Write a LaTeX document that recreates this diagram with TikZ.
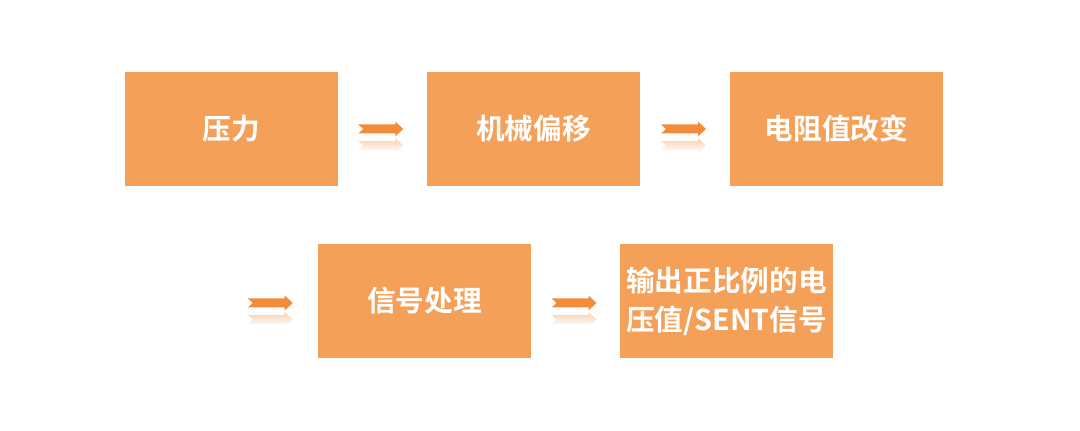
\documentclass[tikz,border=0pt]{standalone}
\usepackage{fontspec}
\newfontfamily\cjk{Noto Sans CJK SC}[BoldFont=Noto Sans CJK SC Bold]
\usepackage{xcolor}
\definecolor{boxorange}{RGB}{245,160,88}
\definecolor{arroworange}{RGB}{243,140,58}
\usetikzlibrary{calc, fadings}

\tikzset{
  flowarrow/.pic={
    % arrow body
    \fill[arroworange] (-22,-4.5) -- (15,-4.5) -- (15,-7.5) -- (23,0) -- (15,7.5) -- (15,4.5)
      -- (-22,4.5) -- (-17,0) -- cycle;
    % reflection
    \fill[arroworange!40, path fading=south] (-22,-12) -- (15,-12) -- (15,-9) -- (23,-16.5)
      -- (15,-24) -- (15,-21) -- (-22,-21) -- (-17,-16.5) -- cycle;
  }
}

\begin{document}
\begin{tikzpicture}[
  x=0.75pt, y=0.75pt,
  stepbox/.style={rectangle, fill=boxorange, minimum width=159.75pt,
                  minimum height=85.5pt, align=center, text=white,
                  font=\cjk\bfseries\fontsize{21.5}{29}\selectfont, inner sep=0pt}
]
  \useasboundingbox (0,0) rectangle (1080,431);

  % Boxes
  \node[stepbox] (force)   at (231,302)   {压力};
  \node[stepbox] (shift)   at (533.5,302) {机械偏移};
  \node[stepbox] (resist)  at (836.5,302) {电阻值改变};
  \node[stepbox] (signal)  at (424.5,130) {信号处理};
  \node[stepbox] (output)  at (726.5,130) {输出正比例的电\\压值/SENT信号};

  % Arrows
  \pic at ($(force.east)!0.5!(shift.west)+(-2,0)$) {flowarrow};
  \pic at ($(shift.east)!0.5!(resist.west)+(-2,0)$) {flowarrow};
  \pic at ($(signal.west)+(-48,-2)$) {flowarrow};
  \pic at ($(signal.east)!0.5!(output.west)+(-2,-2)$) {flowarrow};
\end{tikzpicture}
\end{document}
